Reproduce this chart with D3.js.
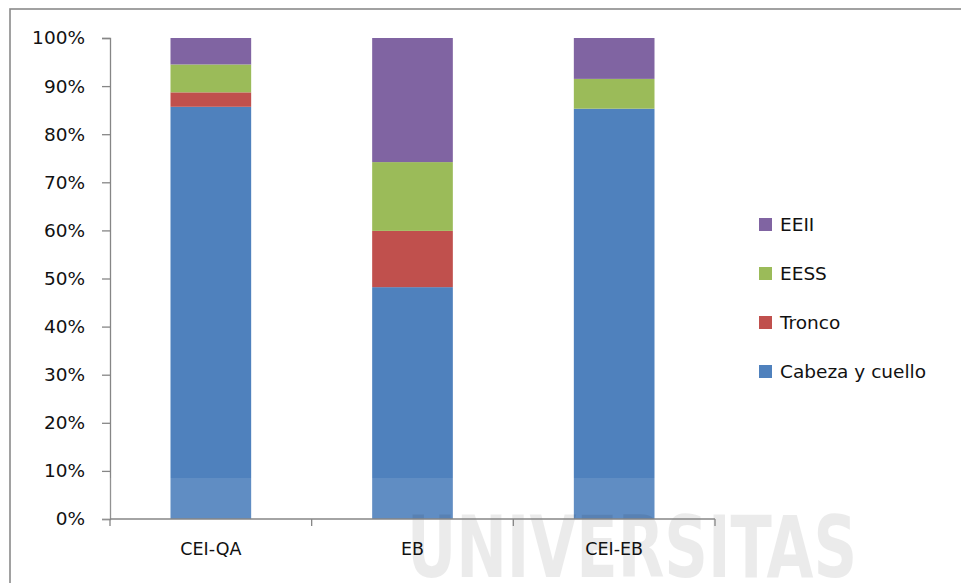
<!DOCTYPE html>
<html>
<head>
<meta charset="utf-8">
<script src="https://cdn.jsdelivr.net/npm/d3@7"></script>
<style>
  html, body { margin: 0; padding: 0; background: #fff; }
  svg { display: block; }
</style>
</head>
<body>
<svg id="chart" width="961" height="583"></svg>
<script>
// Body region distribution (%) per group
const categories = ["CEI-QA", "EB", "CEI-EB"];
const seriesNames = ["Cabeza y cuello", "Tronco", "EESS", "EEII"];
const cabeza = [85.7, 48.2, 85.3];
const tronco = [3.0, 11.7, 0.0];
const eess   = [5.8, 14.3, 6.2];
const eeii   = [5.5, 25.8, 8.5];
const yTicks = [0, 10, 20, 30, 40, 50, 60, 70, 80, 90, 100];
const colors = ["#4F81BD", "#C0504D", "#9BBB59", "#8064A2"];

const rows = categories.map((c, i) => ({
  cat: c,
  "Cabeza y cuello": cabeza[i],
  "Tronco": tronco[i],
  "EESS": eess[i],
  "EEII": eeii[i]
}));

const svg = d3.select("#chart");
const font = "'DejaVu Sans', Verdana, sans-serif";

// outer frame of the chart area
svg.append("rect")
  .attr("x", 10).attr("y", 9).attr("width", 1000).attr("height", 700)
  .attr("fill", "#fff").attr("stroke", "#8a8a8a").attr("stroke-width", 1.6);

const x = d3.scaleBand().domain(categories).range([110, 715])
  .paddingInner(0.6).paddingOuter(0.3);
const y = d3.scaleLinear().domain([0, 100]).range([519, 38]);
const color = d3.scaleOrdinal().domain(seriesNames).range(colors);

const stacked = d3.stack().keys(seriesNames)(rows);

// stacked bars
svg.append("g").selectAll("g").data(stacked).join("g")
  .attr("fill", d => color(d.key))
  .selectAll("rect").data(d => d).join("rect")
  .attr("x", d => x(d.data.cat))
  .attr("width", x.bandwidth())
  .attr("y", d => y(d[1]))
  .attr("height", d => y(d[0]) - y(d[1]));

// y axis
const yAxis = svg.append("g").attr("transform", "translate(110,0)")
  .call(d3.axisLeft(y).tickValues(yTicks).tickFormat(d => d + "%").tickSize(8).tickPadding(17));
yAxis.select(".domain").attr("stroke", "#868686").attr("stroke-width", 1.3);
yAxis.selectAll(".tick line").attr("stroke", "#868686").attr("stroke-width", 1.3);
yAxis.selectAll(".tick text")
  .attr("font-family", font).attr("font-size", 18.5).attr("fill", "#111");

// faint institutional watermark along the bottom
svg.append("rect").attr("x", 85).attr("y", 478).attr("width", 790).attr("height", 105)
  .attr("fill", "#fff").attr("opacity", 0.1);
svg.append("text")
  .attr("x", 407).attr("y", 577)
  .attr("textLength", 450).attr("lengthAdjust", "spacingAndGlyphs")
  .attr("font-family", "'Liberation Sans Narrow', 'DejaVu Sans Condensed', sans-serif")
  .attr("font-weight", "bold").attr("font-size", 86)
  .attr("fill", "#000").attr("opacity", 0.075)
  .text("UNIVERSITAS");

// x axis with ticks at category boundaries
const xAxis = svg.append("g").attr("transform", "translate(0,519)")
  .call(d3.axisBottom(x).tickSize(0).tickPadding(24));
xAxis.select(".domain").remove();
xAxis.selectAll(".tick text")
  .attr("font-family", font).attr("font-size", 17.5).attr("fill", "#111");
const [r0, r1] = x.range();
const bounds = d3.range(categories.length + 1).map(i => r0 + i * (r1 - r0) / categories.length);
xAxis.append("line").attr("x1", r0).attr("x2", r1).attr("y1", 0).attr("y2", 0)
  .attr("stroke", "#868686").attr("stroke-width", 1.3);
xAxis.selectAll(".bound").data(bounds).join("line").attr("class", "bound")
  .attr("x1", d => d).attr("x2", d => d).attr("y1", 0).attr("y2", 7)
  .attr("stroke", "#868686").attr("stroke-width", 1.3);

// legend (top-down: EEII ... Cabeza y cuello)
const legendItems = seriesNames.slice().reverse();
const legend = svg.append("g").selectAll("g").data(legendItems).join("g")
  .attr("transform", (d, i) => `translate(759,${225 + i * 49})`);
legend.append("rect").attr("x", 0).attr("y", -7).attr("width", 13).attr("height", 13)
  .attr("fill", d => color(d));
legend.append("text").attr("x", 21).attr("y", 0).attr("dy", "0.35em")
  .attr("font-family", font).attr("font-size", 18.5).attr("fill", "#111")
  .text(d => d);
</script>
</body>
</html>
